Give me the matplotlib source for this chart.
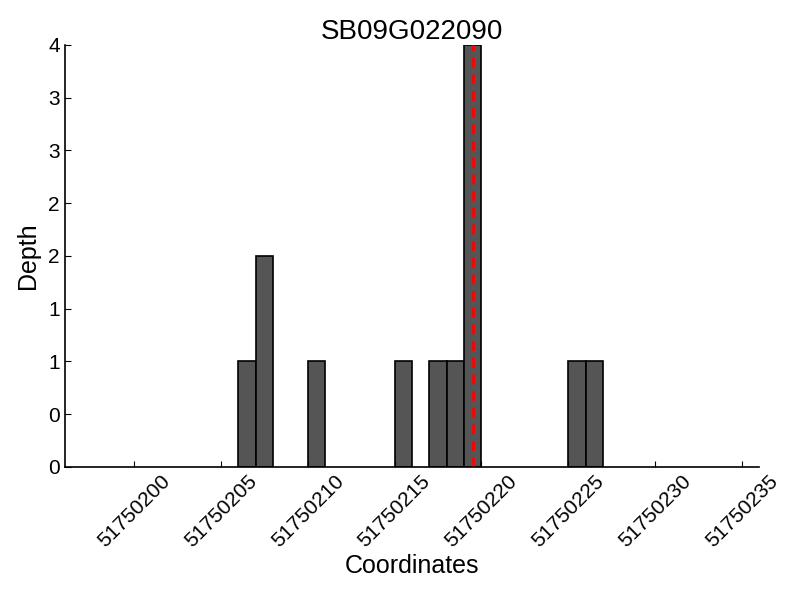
import matplotlib
matplotlib.use('Agg')
import matplotlib.pyplot as plt
from matplotlib.ticker import FormatStrFormatter

plt.rcParams['font.family'] = ['Liberation Sans', 'DejaVu Sans']

# read depth per coordinate (bar left edges)
positions = [51750206, 51750207, 51750210, 51750215, 51750217,
             51750218, 51750219, 51750225, 51750226]
depths = [1, 2, 1, 1, 1, 1, 4, 1, 1]
marker_pos = 51750219.5
x_ticks = [51750200, 51750205, 51750210, 51750215, 51750220,
           51750225, 51750230, 51750235]
y_ticks = [0, 0.5, 1, 1.5, 2, 2.5, 3, 3.5, 4]

fig = plt.figure(figsize=(8, 6), dpi=100)
ax = fig.add_axes([0.081, 0.2217, 0.868, 0.7033])

ax.bar(positions, depths, width=1, align='edge', color='#555555',
       edgecolor='black', linewidth=1.2)
ax.axvline(marker_pos, color='red', linestyle='--', linewidth=2, dashes=(3.5, 2.5))

ax.set_xlim(51750196, 51750236)
ax.set_ylim(0, 4)
ax.set_xticks(x_ticks)
ax.set_xticklabels([str(t) for t in x_ticks], rotation=45, fontsize=15)
ax.set_yticks(y_ticks)
ax.yaxis.set_major_formatter(FormatStrFormatter('%d'))
ax.tick_params(axis='y', labelsize=15)
ax.tick_params(direction='in', length=4, top=False, right=False)

ax.spines['top'].set_visible(False)
ax.spines['right'].set_visible(False)
ax.spines['left'].set_linewidth(1.2)
ax.spines['bottom'].set_linewidth(1.2)

ax.set_xlabel('Coordinates', fontsize=18, labelpad=2)
ax.set_ylabel('Depth', fontsize=18, labelpad=6)
ax.set_title('SB09G022090', fontsize=20, pad=4)

fig.savefig('out.png', dpi=100)
